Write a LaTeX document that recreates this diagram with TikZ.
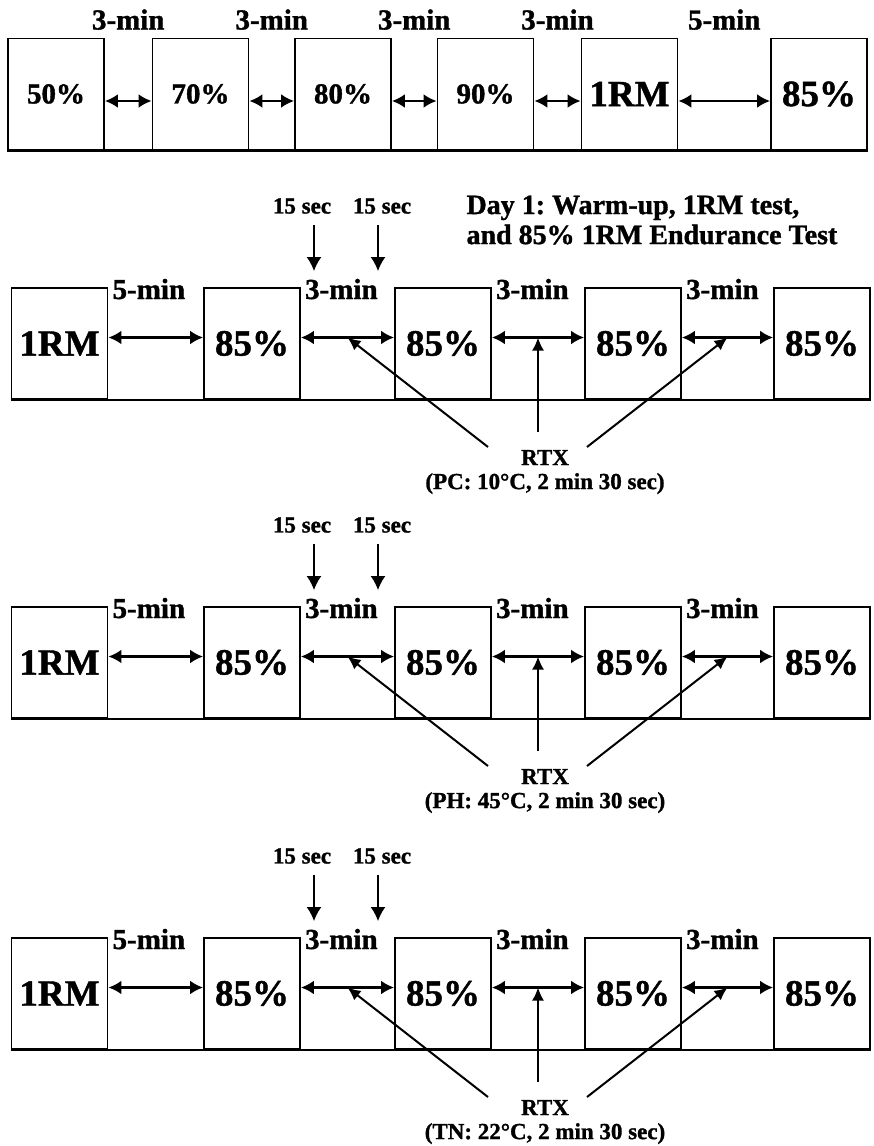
\documentclass[tikz,border=0pt]{standalone}
\usepackage{fontspec}
\setmainfont{Liberation Serif}[BoldFeatures={FakeBold=1.2}]
\usetikzlibrary{arrows.meta}
\usetikzlibrary{calc}
\frenchspacing

\begin{document}
\begin{tikzpicture}[x=1pt,y=-1pt]
  \tikzset{blk/.style={draw, line width=1.8pt, minimum width=96pt, minimum height=111pt, inner sep=0pt, font=\bfseries\fontsize{37}{40}\selectfont}}
  \tikzset{blksmall/.style={blk, font=\bfseries\fontsize{29}{32}\selectfont}}
  \tikzset{gap/.style={draw, <->, >={Latex[length=13pt,width=14pt]}, line width=2.5pt}}
  \tikzset{base/.style={draw, line width=2.8pt}}
  \tikzset{lbl/.style={font=\bfseries\fontsize{29}{32}\selectfont, inner sep=0pt}}
  \tikzset{sec/.style={font=\bfseries\fontsize{23}{25}\selectfont, inner sep=0pt}}
  \tikzset{down/.style={draw, ->, >={Latex[length=14pt,width=15pt]}, line width=1.5pt}}
  \tikzset{rtxline/.style={draw, ->, >={Latex[length=13pt,width=12pt]}, line width=2pt}}
  \tikzset{rtx/.style={font=\bfseries\fontsize{23}{24}\selectfont, align=center, inner sep=0pt}}

  \useasboundingbox (0,0) rectangle (874,1146);

  % warm-up and 1RM
  \node[blksmall] (w1) at (56,94) {50\%};
  \node[blksmall] (w2) at (200.5,94) {70\%};
  \node[blksmall] (w3) at (343,94) {80\%};
  \node[blksmall] (w4) at (485.5,94) {90\%};
  \node[blk] (w5) at (629.5,94) {1RM};
  \node[blk] (w6) at (819,94) {85\%};
  \draw[base] (w1.south west) -- (w6.south east);
  \foreach \i/\j/\m in {1/2/3,2/3/3,3/4/3,4/5/3,5/6/5}{
    \draw[gap] ([yshift=-7pt]w\i.east) -- ([yshift=-7pt]w\j.west);
    \node[lbl] at ($(w\i.north east)!0.5!(w\j.north west)+(0,-18)$) {\m-min};
  }

  \node[anchor=west, align=left, font=\bfseries\fontsize{28}{30}\selectfont] (day) at (463,220)
    {Day 1: Warm-up, 1RM test,\\and 85\% 1RM Endurance Test};

  % endurance sets, one row per condition
  \foreach \rw/\ty/\cond in {2/288/PC: 10°C, 3/607/PH: 45°C, 4/938/TN: 22°C}{
    \foreach \i/\x/\txt in {1/59.5/1RM, 2/252/85\%, 3/443/85\%, 4/633/85\%, 5/822/85\%}
      \node[blk] (b\rw\i) at (\x,\ty+55.5) {\txt};
    \draw[base] (b\rw1.south west) -- (b\rw5.south east);
    \foreach \i/\j/\m in {1/2/5,2/3/3,3/4/3,4/5/3}{
      \draw[gap] ([yshift=6pt]b\rw\i.east) -- ([yshift=6pt]b\rw\j.west);
      \node[lbl, anchor=west] at ([xshift=4pt,yshift=-2pt]b\rw\i.north east) {\m-min};
      \coordinate (g\rw\i) at ($(b\rw\i.east)!0.5!(b\rw\j.west)+(0,-6)$);
    }
    % 15 sec marks
    \node[sec] (s\rw1) at (302,\ty-82) {15 sec};
    \node[sec] (s\rw2) at (382,\ty-82) {15 sec};
    \coordinate (u\rw1) at (314,\ty-63);
    \coordinate (d\rw1) at (314,\ty-17);
    \coordinate (u\rw2) at (378,\ty-63);
    \coordinate (d\rw2) at (378,\ty-17);
    \draw[down] (u\rw1) -- (d\rw1);
    \draw[down] (u\rw2) -- (d\rw2);
    % RTX
    \node[rtx] (x\rw) at (545,\ty+184) {RTX\\(\cond, 2 min 30 sec)};
    \draw[rtxline] ([shift={(-57,-25)}]x\rw.center) -- (g\rw2);
    \draw[rtxline] ([shift={(-7,-40)}]x\rw.center) -- (g\rw3);
    \draw[rtxline] ([shift={(42,-25)}]x\rw.center) -- (g\rw4);
  }
\end{tikzpicture}
\end{document}
